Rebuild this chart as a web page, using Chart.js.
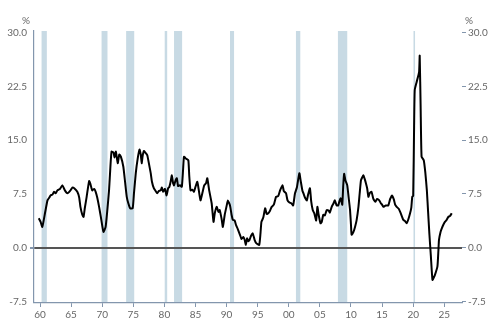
<!DOCTYPE html>
<html>
<head>
<meta charset="utf-8">
<script src="https://cdn.jsdelivr.net/npm/chart.js@4/dist/chart.umd.min.js"></script>
<style>
  body { margin: 0; background: #fff; }
  canvas { display: block; }
</style>
</head>
<body>
<canvas id="myChart" width="500" height="332"></canvas>
<script>
// time (decimal years) and series values
var years = [
  1959.8, 1960.1, 1960.37, 1960.8, 1961.2, 1961.5, 1961.7, 1962.0, 1962.25, 1962.5,
  1962.8, 1963.2, 1963.6, 1964.0, 1964.4, 1964.9, 1965.2, 1965.5, 1966.0, 1966.3,
  1966.5, 1966.8, 1967.0, 1967.2, 1967.5, 1967.9, 1968.1, 1968.4, 1968.7, 1968.95,
  1969.2, 1969.5, 1969.8, 1970.2, 1970.55, 1970.8, 1971.1, 1971.3, 1971.5, 1971.8,
  1972.0, 1972.2, 1972.5, 1972.75, 1973.0, 1973.4, 1973.7, 1973.95, 1974.2, 1974.5,
  1974.9, 1975.1, 1975.4, 1975.7, 1976.0, 1976.2, 1976.35, 1976.5, 1976.7, 1977.0,
  1977.25, 1977.5, 1977.8, 1978.0, 1978.3, 1978.6, 1978.85, 1979.1, 1979.4, 1979.6,
  1979.8, 1980.1, 1980.35, 1980.6, 1980.8, 1981.0, 1981.2, 1981.4, 1981.55, 1981.8,
  1982.0, 1982.2, 1982.5, 1982.8, 1983.0, 1983.15, 1983.5, 1983.85, 1984.0, 1984.2,
  1984.5, 1984.75, 1985.0, 1985.3, 1985.5, 1985.8, 1986.1, 1986.4, 1986.7, 1986.9,
  1987.2, 1987.6, 1987.9, 1988.1, 1988.4, 1988.7, 1988.9, 1989.2, 1989.4, 1989.7,
  1990.0, 1990.2, 1990.55, 1990.8, 1991.0, 1991.3, 1991.5, 1991.8, 1992.15, 1992.4,
  1992.7, 1992.9, 1993.1, 1993.3, 1993.5, 1993.7, 1993.9, 1994.2, 1994.5, 1994.8,
  1995.25, 1995.45, 1995.6, 1995.9, 1996.2, 1996.45, 1996.7, 1997.0, 1997.25, 1997.6,
  1997.95, 1998.3, 1998.6, 1999.0, 1999.2, 1999.55, 1999.8, 2000.1, 2000.4, 2000.7,
  2001.0, 2001.3, 2001.7, 2001.9, 2002.2, 2002.35, 2002.6, 2002.9, 2003.1, 2003.4,
  2003.6, 2003.85, 2004.1, 2004.4, 2004.6, 2004.8, 2005.1, 2005.3, 2005.55, 2005.8,
  2006.1, 2006.4, 2006.6, 2006.9, 2007.2, 2007.4, 2007.7, 2007.95, 2008.15, 2008.35,
  2008.6, 2008.75, 2008.9, 2009.1, 2009.4, 2009.6, 2009.85, 2010.0, 2010.1, 2010.4,
  2010.65, 2010.9, 2011.2, 2011.4, 2011.6, 2011.8, 2012.0, 2012.2, 2012.4, 2012.6,
  2012.8, 2013.0, 2013.3, 2013.6, 2013.9, 2014.2, 2014.55, 2014.8, 2015.0, 2015.2,
  2015.6, 2016.0, 2016.3, 2016.6, 2016.9, 2017.1, 2017.35, 2017.7, 2018.0, 2018.4,
  2018.7, 2018.95, 2019.2, 2019.5, 2019.7, 2019.85, 2020.0, 2020.15, 2020.25, 2020.55,
  2020.95, 2021.05, 2021.2, 2021.35, 2021.7, 2021.95, 2022.2, 2022.4, 2022.6, 2022.85,
  2023.1, 2023.3, 2023.5, 2023.9, 2024.05, 2024.15, 2024.4, 2024.6, 2024.85, 2025.1,
  2025.4, 2025.65, 2025.9, 2026.2
];
var values = [
  4.1, 3.6, 2.9, 4.8, 6.6, 7.0, 7.3, 7.4, 7.8, 7.6,
  8.0, 8.2, 8.7, 8.0, 7.6, 8.0, 8.4, 8.3, 7.8, 7.0,
  5.7, 4.6, 4.3, 5.5, 7.1, 9.3, 8.9, 8.0, 8.2, 7.8,
  7.0, 5.7, 4.2, 2.2, 2.9, 5.0, 8.0, 11.0, 13.4, 13.3,
  12.6, 13.4, 11.8, 13.0, 12.7, 11.3, 9.0, 7.1, 6.2, 5.5,
  5.5, 7.5, 10.4, 12.4, 13.7, 13.0, 11.8, 12.8, 13.5, 13.2,
  12.9, 11.8, 10.4, 9.2, 8.3, 7.9, 7.6, 7.9, 8.0, 8.4,
  7.8, 8.2, 7.3, 8.3, 8.5, 9.2, 10.1, 9.0, 8.7, 9.4,
  9.7, 8.6, 8.7, 8.5, 10.8, 12.7, 12.4, 12.2, 10.0, 8.0,
  8.1, 7.8, 8.5, 9.2, 8.2, 6.6, 7.6, 8.7, 9.0, 9.7,
  8.0, 6.2, 3.6, 4.8, 5.7, 5.0, 5.25, 4.0, 2.9, 4.6,
  5.8, 6.6, 5.9, 4.6, 3.9, 3.8, 3.2, 2.6, 1.8, 1.2,
  1.5, 1.1, 0.4, 1.3, 0.9, 1.1, 1.6, 2.0, 1.1, 0.6,
  0.4, 2.0, 3.6, 4.2, 5.5, 4.7, 4.8, 5.2, 5.7, 6.0,
  7.1, 7.2, 8.0, 8.7, 7.9, 7.6, 6.6, 6.3, 6.2, 5.9,
  7.6, 8.4, 10.4, 9.4, 7.9, 7.6, 7.0, 6.6, 7.4, 8.3,
  6.5, 5.25, 4.8, 3.8, 5.7, 4.6, 3.4, 3.6, 4.6, 4.5,
  5.25, 5.2, 4.9, 5.7, 6.2, 6.6, 5.9, 5.9, 6.5, 6.9,
  6.0, 8.6, 10.3, 9.4, 8.7, 7.2, 5.25, 3.2, 1.8, 2.2,
  2.9, 3.8, 5.7, 7.6, 9.4, 9.8, 10.1, 9.6, 9.0, 8.3,
  7.1, 7.6, 7.8, 6.8, 6.4, 6.8, 6.6, 6.2, 6.0, 5.7,
  5.9, 5.9, 6.8, 7.3, 6.7, 6.0, 5.7, 5.4, 4.8, 3.9,
  3.7, 3.4, 3.9, 4.8, 5.6, 7.1, 7.2, 17.0, 22.0, 23.1,
  24.5, 26.8, 19.6, 12.7, 12.2, 10.5, 8.0, 5.0, 2.0, -1.25,
  -4.5, -4.2, -3.8, -2.6, -0.5, 1.1, 2.2, 2.7, 3.2, 3.6,
  3.9, 4.3, 4.4, 4.8
];

// shaded periods
var recessionStarts = [1960.25, 1969.9, 1973.85, 1980.05, 1981.55, 1990.55, 2001.15, 2007.9, 2020.05];
var recessionEnds   = [1961.1, 1970.85, 1975.15, 1980.45, 1982.85, 1991.2, 2001.85, 2009.4, 2020.3];

// tick labels
var xTickYears  = [1960, 1965, 1970, 1975, 1980, 1985, 1990, 1995, 2000, 2005, 2010, 2015, 2020, 2025];
var xTickLabels = ['60', '65', '70', '75', '80', '85', '90', '95', '00', '05', '10', '15', '20', '25'];
var yTickValues = [-7.5, 0, 7.5, 15, 22.5, 30];
var yTickLabels = ['-7.5', '0.0', '7.5', '15.0', '22.5', '30.0'];

var axisColor = '#8396ad';
var textColor = '#666';
var shadeColor = '#c8dae4';

var points = years.map(function (y, i) { return { x: y, y: values[i] }; });

var recessionPlugin = {
  id: 'recessions',
  beforeDraw: function (chart) {
    var ctx = chart.ctx;
    var xs = chart.scales.x;
    var area = chart.chartArea;
    ctx.save();
    ctx.fillStyle = shadeColor;
    for (var i = 0; i < recessionStarts.length; i++) {
      var x0 = xs.getPixelForValue(recessionStarts[i]);
      var x1 = xs.getPixelForValue(recessionEnds[i]);
      ctx.fillRect(x0, area.top, Math.max(x1 - x0, 1.5), area.bottom - area.top);
    }
    ctx.restore();
  }
};

var unitPlugin = {
  id: 'units',
  afterDraw: function (chart) {
    var ctx = chart.ctx;
    var area = chart.chartArea;
    ctx.save();
    ctx.fillStyle = textColor;
    ctx.font = '10px Lato';
    ctx.textAlign = 'center';
    ctx.textBaseline = 'middle';
    ctx.fillText('%', area.left - 8, 21);
    ctx.fillText('%', area.right + 7, 21);
    ctx.restore();
  }
};

function setYTicks(scale) {
  scale.ticks = yTickValues.map(function (v) { return { value: v }; });
}

var ctx = document.getElementById('myChart').getContext('2d');
var chart = new Chart(ctx, {
  type: 'line',
  data: {
    datasets: [{
      data: points,
      borderColor: '#000',
      borderWidth: 2,
      pointRadius: 0,
      tension: 0.15,
      fill: false
    }]
  },
  options: {
    responsive: false,
    animation: false,
    devicePixelRatio: 1,
    layout: { padding: { top: 31, left: 0, right: 0, bottom: 0 } },
    plugins: {
      legend: { display: false },
      tooltip: { enabled: false }
    },
    scales: {
      x: {
        type: 'linear',
        min: 1959.035,
        max: 2027.85,
        afterBuildTicks: function (scale) {
          scale.ticks = xTickYears.map(function (v) { return { value: v }; });
        },
        afterFit: function (scale) { scale.height = 29; },
        ticks: {
          color: textColor,
          font: { family: 'Lato', size: 10 },
          padding: 2,
          maxRotation: 0,
          autoSkip: false,
          callback: function (v) { return xTickLabels[xTickYears.indexOf(v)]; }
        },
        grid: { drawOnChartArea: false, drawTicks: true, tickLength: 4, tickColor: axisColor },
        border: { display: true, color: axisColor, width: 1.2 }
      },
      y: {
        position: 'left',
        min: -7.72,
        max: 30.24,
        afterBuildTicks: setYTicks,
        afterFit: function (scale) { scale.width = 34; },
        ticks: {
          color: textColor,
          font: { family: 'Lato', size: 10 },
          padding: 3,
          callback: function (v) { return yTickLabels[yTickValues.indexOf(v)]; }
        },
        grid: {
          drawTicks: true,
          tickLength: 4,
          tickColor: axisColor,
          color: function (c) { return c.tick && c.tick.value === 0 ? '#555' : 'rgba(0,0,0,0)'; },
          lineWidth: function (c) { return c.tick && c.tick.value === 0 ? 2 : 0; }
        },
        border: { display: true, color: axisColor, width: 1.2 }
      },
      y1: {
        position: 'right',
        min: -7.72,
        max: 30.24,
        afterBuildTicks: setYTicks,
        afterFit: function (scale) { scale.width = 38; },
        ticks: {
          color: textColor,
          font: { family: 'Lato', size: 10 },
          padding: 2,
          callback: function (v) { return yTickLabels[yTickValues.indexOf(v)]; }
        },
        grid: { drawOnChartArea: false, drawTicks: true, tickLength: 4, tickColor: axisColor },
        border: { display: false }
      }
    }
  },
  plugins: [recessionPlugin, unitPlugin]
});
</script>
</body>
</html>
